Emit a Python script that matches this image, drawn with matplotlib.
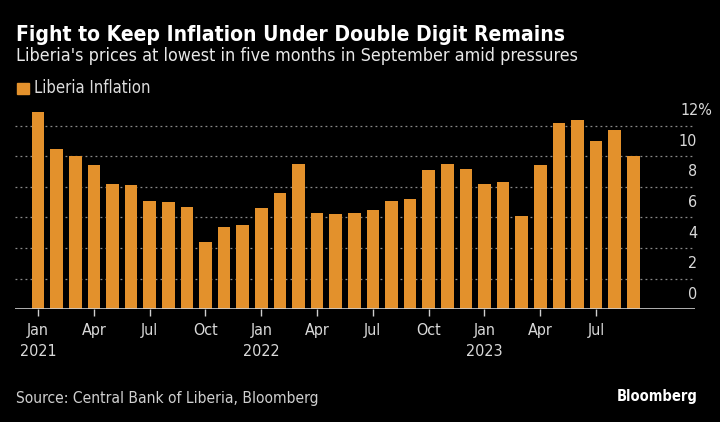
import os
import matplotlib
matplotlib.use('Agg')
import matplotlib.pyplot as plt
import matplotlib.patches as mpatches
from matplotlib.font_manager import FontProperties

# monthly inflation, Jan 2021 - Sep 2023 (%)
months = ['Jan', 'Feb', 'Mar', 'Apr', 'May', 'Jun', 'Jul', 'Aug', 'Sep', 'Oct', 'Nov', 'Dec']
years = [2021, 2022, 2023]
inflation = [12.9, 10.5, 10.0, 9.4, 8.2, 8.1, 7.1, 7.0, 6.7, 4.4, 5.4, 5.5,
             6.6, 7.6, 9.5, 6.3, 6.2, 6.3, 6.5, 7.1, 7.2, 9.1, 9.5, 9.2,
             8.2, 8.3, 6.1, 9.4, 12.2, 12.4, 11.0, 11.7, 10.0]
y_ticks = [0, 2, 4, 6, 8, 10, 12]

W, H = 720, 422
orange = '#E3912C'

dv = '/usr/share/fonts/truetype/dejavu/'


def fp(bold=False, size=11.5):
    f = dv + ('DejaVuSansCondensed-Bold.ttf' if bold else 'DejaVuSansCondensed.ttf')
    if os.path.exists(f):
        return FontProperties(fname=f, size=size)
    return FontProperties(family='DejaVu Sans', stretch='condensed',
                          weight='bold' if bold else 'normal', size=size)


def px(x, y):
    return x / W, 1 - y / H


fig = plt.figure(figsize=(W / 100, H / 100), dpi=100, facecolor='black')

# axes placed so that 0 sits at y=309 px, 12 at y=126 px
ax = fig.add_axes([15 / W, (H - 309.3) / H, 680 / W, (309.3 - 107.3) / H])
ax.set_facecolor('black')

x = list(range(len(inflation)))
ax.bar(x, inflation, width=0.68, color=orange, zorder=3)
ax.set_xlim(-1.24, 35.32)
ax.set_ylim(0, 13.2)

for t in y_ticks[1:]:
    ax.axhline(t, color='#8a8a8a', lw=0.9, ls=(0, (1.5, 2.5)), zorder=1)
for s in ax.spines.values():
    s.set_visible(False)
ax.axhline(0, color='#cfcfcf', lw=1.2, zorder=4)

# y labels sit above each gridline, right side
for t in y_ticks:
    yy = ax.transData.transform((0, t))[1]
    fy = yy / H + 15 / H
    if t == 12:
        fig.text(680 / W, fy, f'{t}%', color='#d9d9d9', fontproperties=fp(size=11.5),
                 ha='left', va='center')
    else:
        fig.text(697 / W, fy, str(t), color='#d9d9d9', fontproperties=fp(size=11.5),
                 ha='right', va='center')
ax.set_yticks([])

tick_pos = x[::3]
tick_lab = []
for i in tick_pos:
    m = months[i % 12]
    if m == 'Jan':
        tick_lab.append(f'{m}\n{years[i // 12]}')
    else:
        tick_lab.append(m)
ax.set_xticks(tick_pos)
ax.set_xticklabels(tick_lab, linespacing=1.45)
ax.tick_params(axis='x', colors='#cfcfcf', length=5, width=1, pad=5, labelcolor='#d9d9d9')
for lab in ax.get_xticklabels():
    lab.set_fontproperties(fp(size=11.5))
    lab.set_verticalalignment('top')

fig.text(*px(16, 35), 'Fight to Keep Inflation Under Double Digit Remains',
         color='white', fontproperties=fp(True, 15.1), va='center', ha='left')
fig.text(*px(16, 56), "Liberia's prices at lowest in five months in September amid pressures",
         color='#e8e8e8', fontproperties=fp(size=12.9), va='center', ha='left')

fig.patches.append(mpatches.Rectangle(px(17.3, 94), 11.4 / W, 11.3 / H,
                                      transform=fig.transFigure, color=orange))
fig.text(*px(34.5, 88), 'Liberia Inflation', color='#dcdcdc', fontproperties=fp(size=12),
         va='center', ha='left')

fig.text(*px(16, 399), 'Source: Central Bank of Liberia, Bloomberg', color='#cfcfcf',
         fontproperties=fp(size=11.2), va='center', ha='left')
fig.text(*px(698, 397), 'Bloomberg', color='white', fontproperties=fp(True, 10.5),
         va='center', ha='right')

fig.savefig('out.png', dpi=100, facecolor='black')
